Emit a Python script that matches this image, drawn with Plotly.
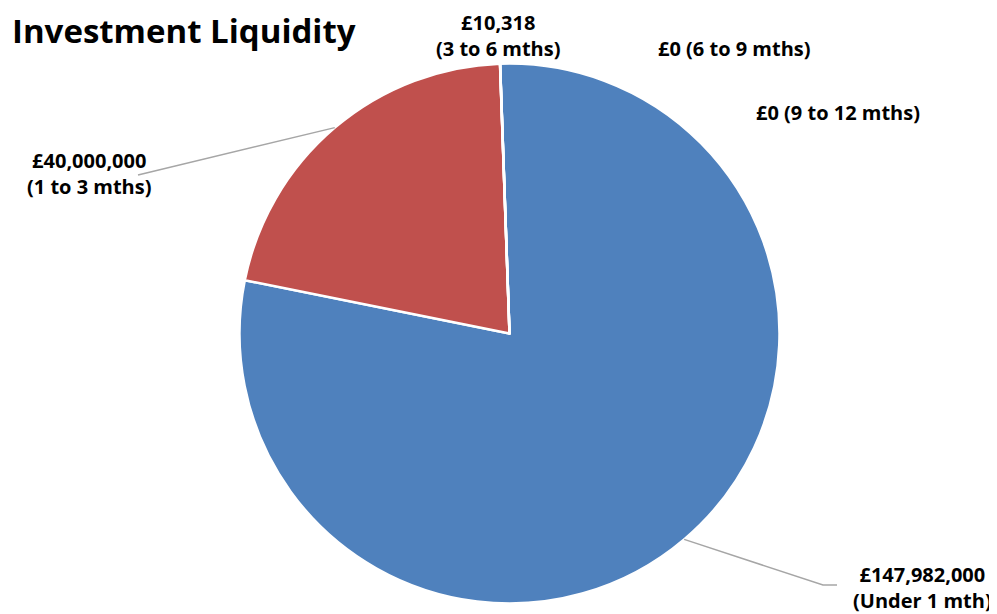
import math
import plotly.graph_objects as go

# ---- data ----
categories = ["Under 1 mth", "1 to 3 mths", "3 to 6 mths", "6 to 9 mths", "9 to 12 mths"]
values = [147982000, 40000000, 10318, 0, 0]
value_labels = ["£147,982,000", "£40,000,000", "£10,318", "£0", "£0"]
colors = ["#4F81BD", "#C0504D", "#9BBB59", "#8064A2", "#4BACC6"]

# page body has an 8px default margin; lay out in window pixels and convert
OFF = 8
W, H = 997 - OFF, 614 - OFF
CX, CY, R = 509.5, 333.5, 270.0
ROT = -2.0
FONT = "'Open Sans', Lato, sans-serif"


def px(x):
    return (x - OFF) / W


def py(y):
    return 1 - (y - OFF) / H


fig = go.Figure(go.Pie(
    labels=categories, values=values, sort=False, direction="clockwise",
    rotation=ROT, marker=dict(colors=colors, line=dict(color="white", width=2.5)),
    textinfo="none", hoverinfo="label+value", showlegend=False,
    domain=dict(x=[px(CX - R), px(CX + R)], y=[py(CY + R), py(CY - R)]),
))

total = sum(values)
starts = []
acc = ROT
for v in values:
    starts.append(acc)
    acc += 360.0 * v / total


def edge_point(i):
    mid = starts[i] + 180.0 * values[i] / total
    t = math.radians(mid)
    return CX + R * math.sin(t), CY - R * math.cos(t)


annotations = [dict(text="<b>Investment Liquidity</b>", x=px(10), y=py(31), xref="paper", yref="paper",
                    xanchor="left", yanchor="middle", showarrow=False,
                    font=dict(family=FONT, size=33, color="black"))]

# label layout: (category index, text, centre of the label block in window pixels)
label_layout = [
    (0, value_labels[0] + "<br>(" + categories[0] + ")", (922, 587)),
    (1, value_labels[1] + "<br>(" + categories[1] + ")", (89, 173)),
    (2, value_labels[2] + "<br>(" + categories[2] + ")", (498, 35)),
    (3, value_labels[3] + " (" + categories[3] + ")", (734, 49)),
    (4, value_labels[4] + " (" + categories[4] + ")", (838, 113)),
]
for idx, txt, (x, y) in label_layout:
    annotations.append(dict(text="<b>" + txt + "</b>", x=px(x), y=py(y), xref="paper", yref="paper",
                            xanchor="center", yanchor="middle", align="center", showarrow=False,
                            font=dict(family=FONT, size=20, color="black")))

shapes = []
leader_ends = {0: [(823, 585), (837, 585)], 1: [(138, 175)]}
for idx, pts in leader_ends.items():
    x0, y0 = edge_point(idx)
    path = "M {} {}".format(px(x0), py(y0))
    for (x, y) in pts:
        path += " L {} {}".format(px(x), py(y))
    shapes.append(dict(type="path", path=path, xref="paper", yref="paper",
                       line=dict(color="#A6A6A6", width=1.5)))

fig.update_layout(width=W, height=H, margin=dict(l=0, r=0, t=0, b=0),
                  paper_bgcolor="white", plot_bgcolor="white",
                  annotations=annotations, shapes=shapes)
fig.write_html("out.html")
